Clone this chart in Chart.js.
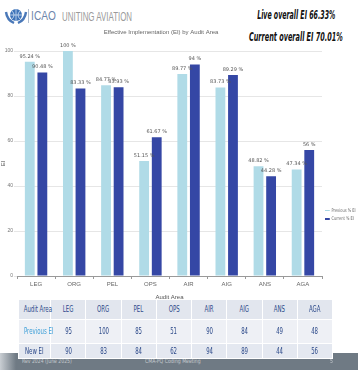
<!DOCTYPE html>
<html>
<head>
<meta charset="utf-8">
<script src="https://cdn.jsdelivr.net/npm/chart.js@4"></script>
<style>
  body { margin: 0; width: 358px; height: 370px; background: #fff; position: relative; overflow: hidden; font-family: "DejaVu Sans", sans-serif; font-stretch: condensed; }
  .abs { position: absolute; white-space: nowrap; width: max-content; }
  #chartBox { position: absolute; left: 0; top: 25px; width: 330px; height: 277px; }
  .kpi { font-weight: bold; font-style: italic; font-size: 12px; color: #111; transform-origin: right center; }
  table { position: absolute; left: 18px; top: 299px; width: 315px; border-collapse: collapse; font-size: 8px; color: #2d4a8a; table-layout: fixed; }
  td { text-align: center; padding: 0; border: 1px solid #fff; white-space: nowrap; overflow: visible; }
  td span { display: inline-block; transform: scaleX(0.75); }
  .footer { position: absolute; left: 0; top: 353px; width: 358px; height: 17px; background: linear-gradient(90deg, #c9ced3 0px, #6f7a84 16px, #6f7a84 100%); }
  .ft { position: absolute; top: 357px; font-size: 6px; color: #c3c8cd; transform: scaleX(0.85); transform-origin: left center; }
  #lg { left: 325px; top: 206px; font-size: 5px; color: #666; line-height: 8px; transform: scaleX(0.8); transform-origin: left top; }
  #lg i { display: inline-block; width: 6px; vertical-align: middle; margin-right: 2px; }
</style>
</head>
<body>
<!-- header -->
<svg class="abs" style="left:4px;top:6px" width="24" height="20" viewBox="0 0 24 20">
  <path d="M2 6 Q3 14 10 17 M22 6 Q21 14 14 17" stroke="#4a78b8" stroke-width="2.4" fill="none"/>
  <circle cx="12" cy="9" r="6" fill="#3f74b9"/>
  <path d="M6 9 H18 M12 3 V15 M8 5 Q12 9 8 13 M16 5 Q12 9 16 13" stroke="#cfe0f2" stroke-width="0.8" fill="none"/>
</svg>
<div class="abs" id="ic" style="left:28px;top:9px;font-size:13px;color:#6d86ab;border-left:1px solid #9aaac0;padding-left:3px;line-height:14px;transform-origin:left center;font-family:'Liberation Sans',sans-serif">ICAO</div>
<div class="abs" id="ua" style="left:62px;top:10px;font-size:13px;color:#9a9a9a;line-height:14px;transform-origin:left center;font-family:'Liberation Sans',sans-serif">UNITING AVIATION</div>
<div class="abs kpi" id="k1" style="right:23px;top:8px">Live overall EI 66.33%</div>
<div class="abs kpi" id="k2" style="right:15px;top:30px">Current overall EI 70.01%</div>

<div id="chartBox"><canvas id="chart"></canvas></div>

<!-- legend -->
<div class="abs" id="lg">
  <div><i style="height:1px;background:#a9d7e4"></i>Previous % EI</div>
  <div><i style="height:2px;background:#3446a3"></i>Current % EI</div>
</div>

<div class="footer"></div>
<div class="ft" style="left:22px">Rev 2024 (June 2025)</div>
<div class="ft" style="left:145px">CMA-PQ Coding Meeting</div>
<div class="ft" style="left:330px">5</div>

<table id="tbl">
  <colgroup><col style="width:32px"></colgroup>
  <tr id="rowHead" style="height:20px;background:#e2e6ee"></tr>
  <tr id="rowPrev" style="height:24px;background:#eef0f5"></tr>
  <tr id="rowNew" style="height:15px;background:#e4e8f0"></tr>
</table>

<script>
const areas = ["LEG", "ORG", "PEL", "OPS", "AIR", "AIG", "ANS", "AGA"];
const previousEI = [95.24, 100, 84.77, 51.15, 89.77, 83.73, 48.82, 47.34];
const currentEI = [90.48, 83.33, 83.93, 61.67, 94, 89.29, 44.28, 56];
const tablePrevious = [95, 100, 85, 51, 90, 84, 49, 48];
const tableNew = [90, 83, 84, 62, 94, 89, 44, 56];
const yTicks = [0, 20, 40, 60, 80, 100];

// table below the chart
function fillRow(id, head, vals, headColor) {
  const tr = document.getElementById(id);
  tr.innerHTML = '<td style="color:' + headColor + '"><span>' + head + '</span></td>' +
    vals.map(v => '<td><span>' + v + '</span></td>').join('');
}
fillRow("rowHead", "Audit Area", areas, "#2d4a8a");
fillRow("rowPrev", "Previous EI", tablePrevious, "#3d9fd8");
fillRow("rowNew", "New EI", tableNew, "#2d4a8a");

// squeeze header texts to the widths seen on the slide
[["k1", 78], ["k2", 94], ["ic", 28], ["ua", 70]].forEach(([id, w]) => {
  const el = document.getElementById(id);
  el.style.transform = "scaleX(" + (w / el.offsetWidth) + ")";
});

const valueLabels = {
  id: "valueLabels",
  afterDatasetsDraw(chart) {
    const ctx = chart.ctx;
    ctx.save();
    ctx.font = "5px 'DejaVu Sans', sans-serif";
    ctx.fillStyle = "#555";
    ctx.textAlign = "center";
    ctx.textBaseline = "bottom";
    chart.data.datasets.forEach((ds, i) => {
      chart.getDatasetMeta(i).data.forEach((bar, j) => {
        ctx.fillText(ds.data[j] + " %", bar.x, bar.y - 3);
      });
    });
    ctx.restore();
  }
};

const fam = "'Liberation Sans', sans-serif";

new Chart(document.getElementById("chart"), {
  type: "bar",
  data: {
    labels: areas,
    datasets: [
      { label: "Previous % EI", data: previousEI, backgroundColor: "#b0dbe7", borderWidth: 0 },
      { label: "Current % EI", data: currentEI, backgroundColor: "#3547a5", borderWidth: 0 }
    ]
  },
  options: {
    responsive: true,
    maintainAspectRatio: false,
    animation: false,
    categoryPercentage: 0.66,
    barPercentage: 0.78,
    layout: { padding: { left: 0, right: 8, top: 0, bottom: 0 } },
    plugins: {
      legend: { display: false },
      tooltip: { enabled: false },
      title: {
        display: true,
        text: "Effective Implementation (EI) by Audit Area",
        color: "#666",
        font: { size: 6, family: fam, weight: "normal" },
        padding: { top: 4, bottom: 14.8 }
      }
    },
    scales: {
      x: {
        grid: { drawOnChartArea: false, offset: true, tickLength: 3, color: "#999" },
        border: { color: "#999" },
        ticks: { color: "#666", padding: 2, font: { size: 6, family: fam } },
        title: { display: true, text: "Audit Area", color: "#555", padding: 1, font: { size: 6, family: fam } },
        afterFit(scale) { scale.height = 26; }
      },
      y: {
        min: 0,
        max: 100,
        afterBuildTicks(scale) { scale.ticks = yTicks.map(v => ({ value: v })); },
        grid: { color: "#e6e6e6", tickLength: 3 },
        border: { display: false },
        ticks: { color: "#777", padding: 1, font: { size: 5, family: fam } },
        title: { display: true, text: "EI", color: "#555", padding: 0, font: { size: 6, family: fam } },
        afterFit(scale) { scale.width = 17; }
      }
    }
  },
  plugins: [valueLabels]
});
</script>
</body>
</html>
